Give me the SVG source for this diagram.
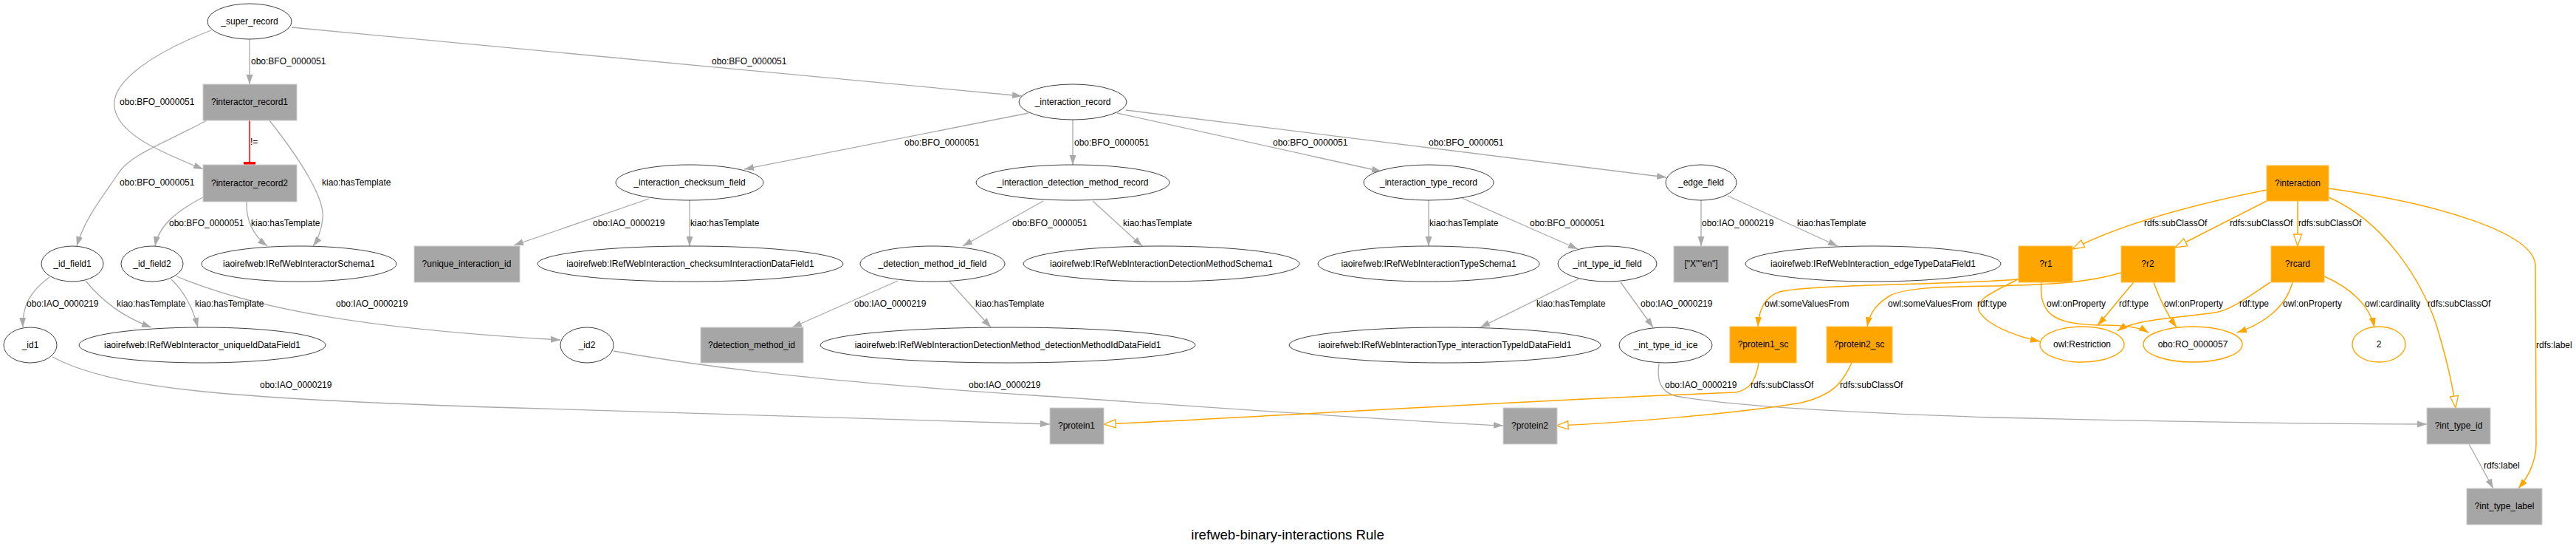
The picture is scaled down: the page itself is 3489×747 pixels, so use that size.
<svg xmlns="http://www.w3.org/2000/svg" width="3489" height="747" viewBox="0 0 3489 747">
<style>
text{font-family:"Liberation Sans",Arial,sans-serif;font-size:12px;fill:#000}
.c{text-anchor:middle}
.n ellipse{fill:#fff;stroke:#404040;stroke-width:1}
.on ellipse{fill:#fff;stroke:#ffa500;stroke-width:1.4}
.g rect{fill:#a6a6a6;stroke:#cfcfcf;stroke-width:1}
.or rect{fill:#ffa500;stroke:#ffc04c;stroke-width:1}
.e{fill:none;stroke:#a9a9a9;stroke-width:1.3}
.eo{fill:none;stroke:#ffa500;stroke-width:1.5}
.er{fill:none;stroke:#ff0000;stroke-width:1.5}
.t{font-size:18.6px}
</style>
<defs>
<marker id="ag" viewBox="0 0 13 10" refX="13" refY="5" markerWidth="13" markerHeight="10" orient="auto" markerUnits="userSpaceOnUse"><path d="M0,0.5 L13,5 L0,9.5 z" fill="#a9a9a9"/></marker>
<marker id="ao" viewBox="0 0 13 10" refX="13" refY="5" markerWidth="13" markerHeight="10" orient="auto" markerUnits="userSpaceOnUse"><path d="M0,0.5 L13,5 L0,9.5 z" fill="#ffa500"/></marker>
<marker id="ah" viewBox="-1 -1 18 14" refX="16" refY="6" markerWidth="18" markerHeight="14" orient="auto" markerUnits="userSpaceOnUse"><path d="M0,0.5 L16,6 L0,11.5 z" fill="#fff" stroke="#ffa500" stroke-width="1.3"/></marker>
<marker id="tee" viewBox="0 0 4 16" refX="4" refY="8" markerWidth="4" markerHeight="16" orient="auto" markerUnits="userSpaceOnUse"><rect x="0" y="0" width="4" height="16" fill="#ff0000"/></marker>
</defs>
<rect width="3489" height="747" fill="#fff"/>
<g id="edges">
<path class="e" d="M338,53 L338,114" marker-end="url(#ag)"/>
<path class="e" d="M286,41 C210,70 150,110 155,145 C160,185 230,210 275,229" marker-end="url(#ag)"/>
<path class="e" d="M280,163 C220,195 175,210 160,235 C140,265 115,295 104,333" marker-end="url(#ag)"/>
<path class="er" d="M338,163 L338,223" marker-end="url(#tee)"/>
<path class="e" d="M365,163 C410,220 440,270 437,295 C436,310 430,325 424,333" marker-end="url(#ag)"/>
<path class="e" d="M395,37 L1384,130" marker-end="url(#ag)"/>
<path class="e" d="M275,267 C240,285 215,305 210,333" marker-end="url(#ag)"/>
<path class="e" d="M334,273 C333,300 345,320 362,333" marker-end="url(#ag)"/>
<path class="e" d="M67,375 C40,395 30,415 31,443" marker-end="url(#ag)"/>
<path class="e" d="M116,380 C140,410 170,430 205,443" marker-end="url(#ag)"/>
<path class="e" d="M232,378 C250,395 262,420 268,443" marker-end="url(#ag)"/>
<path class="e" d="M239,374 C350,420 500,445 759,460" marker-end="url(#ag)"/>
<path class="e" d="M71,483 C150,525 300,540 700,552 C1000,560 1300,570 1422,574" marker-end="url(#ag)"/>
<path class="e" d="M1393,153 L1008,229" marker-end="url(#ag)"/>
<path class="e" d="M1453,162 L1453,223" marker-end="url(#ag)"/>
<path class="e" d="M1513,153 L1871,232" marker-end="url(#ag)"/>
<path class="e" d="M1525,149 L2257,240" marker-end="url(#ag)"/>
<path class="e" d="M879,269 L696,332" marker-end="url(#ag)"/>
<path class="e" d="M934,271 L934,333" marker-end="url(#ag)"/>
<path class="e" d="M1413,272 L1304,333" marker-end="url(#ag)"/>
<path class="e" d="M1480,272 L1547,333" marker-end="url(#ag)"/>
<path class="e" d="M1216,380 L1073,443" marker-end="url(#ag)"/>
<path class="e" d="M1286,381 L1342,443" marker-end="url(#ag)"/>
<path class="e" d="M1935,271 L1935,333" marker-end="url(#ag)"/>
<path class="e" d="M1980,268 L2137,337" marker-end="url(#ag)"/>
<path class="e" d="M2139,377 L2005,443" marker-end="url(#ag)"/>
<path class="e" d="M2195,382 L2239,443" marker-end="url(#ag)"/>
<path class="e" d="M2304,271 L2304,333" marker-end="url(#ag)"/>
<path class="e" d="M2340,265 L2489,333" marker-end="url(#ag)"/>
<path class="e" d="M831,475 C1000,505 1200,522 1400,535 C1700,555 1900,570 2036,576" marker-end="url(#ag)"/>
<path class="e" d="M2247,492 C2244,515 2248,530 2270,536 C2350,550 2500,558 2700,565 C3000,572 3200,574 3287,574" marker-end="url(#ag)"/>
<path class="e" d="M3344,601 L3377,661" marker-end="url(#ag)"/>
<path class="eo" d="M3070,257 C2980,275 2880,300 2807,337" marker-end="url(#ah)"/>
<path class="eo" d="M3070,272 L2946,335" marker-end="url(#ah)"/>
<path class="eo" d="M3112,272 L3112,333" marker-end="url(#ah)"/>
<path class="eo" d="M3154,267 C3230,300 3280,380 3300,440 C3315,490 3322,520 3326,552" marker-end="url(#ah)"/>
<path class="eo" d="M3154,255 C3300,275 3434,315 3434,360 L3435,600 C3435,630 3420,650 3411,661" marker-end="url(#ao)"/>
<path class="eo" d="M3148,374 C3185,390 3210,415 3216,443" marker-end="url(#ao)"/>
<path class="eo" d="M3105,382 C3095,420 3060,440 3030,450" marker-end="url(#ao)"/>
<path class="eo" d="M3075,382 C3040,405 3020,420 3000,423 C2950,430 2890,432 2868,448" marker-end="url(#ao)"/>
<path class="eo" d="M2917,382 C2925,405 2935,425 2948,443" marker-end="url(#ao)"/>
<path class="eo" d="M2890,382 C2870,405 2855,425 2841,440" marker-end="url(#ao)"/>
<path class="eo" d="M2765,382 C2760,430 2790,440 2850,440 C2880,440 2900,444 2910,450" marker-end="url(#ao)"/>
<path class="eo" d="M2733,378 C2700,395 2675,405 2680,420 C2690,440 2730,455 2763,462" marker-end="url(#ao)"/>
<path class="eo" d="M2734,378 C2650,385 2450,385 2410,395 C2390,402 2382,420 2381,442" marker-end="url(#ao)"/>
<path class="eo" d="M2873,369 C2820,385 2760,385 2700,387 C2620,388 2580,390 2560,400 C2540,412 2532,425 2529,442" marker-end="url(#ao)"/>
<path class="eo" d="M2382,491 C2378,515 2370,528 2350,531 C2000,545 1700,565 1495,574" marker-end="url(#ah)"/>
<path class="eo" d="M2508,491 C2495,520 2480,535 2440,545 C2350,560 2200,572 2108,576" marker-end="url(#ah)"/>
<g id="edge-labels">
<text x="340" y="87">obo:BFO_0000051</text>
<text x="162" y="142">obo:BFO_0000051</text>
<text x="162" y="251">obo:BFO_0000051</text>
<text x="339" y="196">!=</text>
<text x="436" y="251">kiao:hasTemplate</text>
<text x="964" y="87">obo:BFO_0000051</text>
<text x="229" y="306">obo:BFO_0000051</text>
<text x="340" y="306">kiao:hasTemplate</text>
<text x="36" y="415">obo:IAO_0000219</text>
<text x="158" y="415">kiao:hasTemplate</text>
<text x="264" y="415">kiao:hasTemplate</text>
<text x="455" y="415">obo:IAO_0000219</text>
<text x="352" y="525">obo:IAO_0000219</text>
<text x="1225" y="197">obo:BFO_0000051</text>
<text x="1455" y="197">obo:BFO_0000051</text>
<text x="1724" y="197">obo:BFO_0000051</text>
<text x="1935" y="197">obo:BFO_0000051</text>
<text x="803" y="306">obo:IAO_0000219</text>
<text x="935" y="306">kiao:hasTemplate</text>
<text x="1371" y="306">obo:BFO_0000051</text>
<text x="1521" y="306">kiao:hasTemplate</text>
<text x="1157" y="415">obo:IAO_0000219</text>
<text x="1321" y="415">kiao:hasTemplate</text>
<text x="1936" y="306">kiao:hasTemplate</text>
<text x="2072" y="306">obo:BFO_0000051</text>
<text x="2081" y="415">kiao:hasTemplate</text>
<text x="2222" y="415">obo:IAO_0000219</text>
<text x="2305" y="306">obo:IAO_0000219</text>
<text x="2434" y="306">kiao:hasTemplate</text>
<text x="1312" y="525">obo:IAO_0000219</text>
<text x="2255" y="525">obo:IAO_0000219</text>
<text x="3364" y="634">rdfs:label</text>
<text x="2904" y="306">rdfs:subClassOf</text>
<text x="3020" y="306">rdfs:subClassOf</text>
<text x="3113" y="306">rdfs:subClassOf</text>
<text x="3288" y="415">rdfs:subClassOf</text>
<text x="3435" y="471">rdfs:label</text>
<text x="3203" y="415">owl:cardinality</text>
<text x="3092" y="415">owl:onProperty</text>
<text x="3033" y="415">rdf:type</text>
<text x="2931" y="415">owl:onProperty</text>
<text x="2870" y="415">rdf:type</text>
<text x="2772" y="415">owl:onProperty</text>
<text x="2678" y="415">rdf:type</text>
<text x="2390" y="415">owl:someValuesFrom</text>
<text x="2557" y="415">owl:someValuesFrom</text>
<text x="2371" y="525">rdfs:subClassOf</text>
<text x="2492" y="525">rdfs:subClassOf</text>
</g>
</g>
<g id="n_super_record" class="n"><ellipse cx="338" cy="29" rx="57" ry="24"/><text class="c" x="338" y="33">_super_record</text></g>
<g id="n_interactor_record1" class="g"><rect x="275" y="114" width="127" height="49"/><text class="c" x="338" y="142">?interactor_record1</text></g>
<g id="n_interactor_record2" class="g"><rect x="275" y="223" width="127" height="50"/><text class="c" x="338" y="252">?interactor_record2</text></g>
<g id="n_interaction_record" class="n"><ellipse cx="1453" cy="138" rx="73" ry="24"/><text class="c" x="1453" y="142">_interaction_record</text></g>
<g id="n_checksum_field" class="n"><ellipse cx="934" cy="247" rx="100" ry="24"/><text class="c" x="934" y="251">_interaction_checksum_field</text></g>
<g id="n_detection_method_record" class="n"><ellipse cx="1453" cy="247" rx="131" ry="24"/><text class="c" x="1453" y="251">_interaction_detection_method_record</text></g>
<g id="n_interaction_type_record" class="n"><ellipse cx="1935" cy="247" rx="88" ry="24"/><text class="c" x="1935" y="251">_interaction_type_record</text></g>
<g id="n_edge_field" class="n"><ellipse cx="2304" cy="247" rx="48" ry="24"/><text class="c" x="2304" y="251">_edge_field</text></g>
<g id="n_id_field1" class="n"><ellipse cx="98" cy="357" rx="42" ry="24"/><text class="c" x="98" y="361">_id_field1</text></g>
<g id="n_id_field2" class="n"><ellipse cx="206" cy="357" rx="42" ry="24"/><text class="c" x="206" y="361">_id_field2</text></g>
<g id="n_interactor_schema" class="n"><ellipse cx="405" cy="357" rx="132" ry="24"/><text class="c" x="405" y="361">iaoirefweb:IRefWebInteractorSchema1</text></g>
<g id="n_unique_interaction_id" class="g"><rect x="561" y="333" width="143" height="49"/><text class="c" x="632" y="361">?unique_interaction_id</text></g>
<g id="n_checksum_df" class="n"><ellipse cx="935" cy="357" rx="207" ry="24"/><text class="c" x="935" y="361">iaoirefweb:IRefWebInteraction_checksumInteractionDataField1</text></g>
<g id="n_detection_method_id_field" class="n"><ellipse cx="1263" cy="357" rx="98" ry="24"/><text class="c" x="1263" y="361">_detection_method_id_field</text></g>
<g id="n_dm_schema" class="n"><ellipse cx="1573" cy="357" rx="187" ry="24"/><text class="c" x="1573" y="361">iaoirefweb:IRefWebInteractionDetectionMethodSchema1</text></g>
<g id="n_type_schema" class="n"><ellipse cx="1935" cy="357" rx="150" ry="24"/><text class="c" x="1935" y="361">iaoirefweb:IRefWebInteractionTypeSchema1</text></g>
<g id="n_int_type_id_field" class="n"><ellipse cx="2177" cy="357" rx="67" ry="24"/><text class="c" x="2177" y="361">_int_type_id_field</text></g>
<g id="n_xen" class="g"><rect x="2267" y="333" width="74" height="49"/><text class="c" x="2304" y="361">["X""en"]</text></g>
<g id="n_edge_type_df" class="n"><ellipse cx="2537" cy="357" rx="173" ry="24"/><text class="c" x="2537" y="361">iaoirefweb:IRefWebInteraction_edgeTypeDataField1</text></g>
<g id="n_interaction" class="or"><rect x="3070" y="224" width="84" height="48"/><text class="c" x="3112" y="252">?interaction</text></g>
<g id="n_r1" class="or"><rect x="2734" y="333" width="73" height="49"/><text class="c" x="2771" y="361">?r1</text></g>
<g id="n_r2" class="or"><rect x="2873" y="333" width="73" height="49"/><text class="c" x="2909" y="361">?r2</text></g>
<g id="n_rcard" class="or"><rect x="3076" y="333" width="72" height="49"/><text class="c" x="3112" y="361">?rcard</text></g>
<g id="n_id1" class="n"><ellipse cx="41" cy="467" rx="36" ry="24"/><text class="c" x="41" y="471">_id1</text></g>
<g id="n_unique_id_df" class="n"><ellipse cx="274" cy="467" rx="167" ry="24"/><text class="c" x="274" y="471">iaoirefweb:IRefWebInteractor_uniqueIdDataField1</text></g>
<g id="n_id2" class="n"><ellipse cx="795" cy="467" rx="36" ry="24"/><text class="c" x="795" y="471">_id2</text></g>
<g id="n_detection_method_id" class="g"><rect x="949" y="443" width="139" height="48"/><text class="c" x="1018" y="471">?detection_method_id</text></g>
<g id="n_dm_id_df" class="n"><ellipse cx="1365" cy="467" rx="254" ry="24"/><text class="c" x="1365" y="471">iaoirefweb:IRefWebInteractionDetectionMethod_detectionMethodIdDataField1</text></g>
<g id="n_type_id_df" class="n"><ellipse cx="1957" cy="467" rx="211" ry="24"/><text class="c" x="1957" y="471">iaoirefweb:IRefWebInteractionType_interactionTypeIdDataField1</text></g>
<g id="n_int_type_id_ice" class="n"><ellipse cx="2256" cy="467" rx="63" ry="24"/><text class="c" x="2256" y="471">_int_type_id_ice</text></g>
<g id="n_protein1_sc" class="or"><rect x="2343" y="442" width="90" height="49"/><text class="c" x="2388" y="470">?protein1_sc</text></g>
<g id="n_protein2_sc" class="or"><rect x="2474" y="442" width="89" height="49"/><text class="c" x="2518" y="470">?protein2_sc</text></g>
<g id="n_restriction" class="on"><ellipse cx="2820" cy="466" rx="57" ry="24"/><text class="c" x="2820" y="470">owl:Restriction</text></g>
<g id="n_ro" class="on"><ellipse cx="2970" cy="466" rx="67" ry="24"/><text class="c" x="2970" y="470">obo:RO_0000057</text></g>
<g id="n_two" class="on"><ellipse cx="3222" cy="466" rx="36" ry="24"/><text class="c" x="3222" y="470">2</text></g>
<g id="n_protein1" class="g"><rect x="1422" y="552" width="73" height="49"/><text class="c" x="1458" y="580">?protein1</text></g>
<g id="n_protein2" class="g"><rect x="2036" y="552" width="73" height="49"/><text class="c" x="2072" y="580">?protein2</text></g>
<g id="n_int_type_id" class="g"><rect x="3287" y="552" width="86" height="49"/><text class="c" x="3330" y="580">?int_type_id</text></g>
<g id="n_int_type_label" class="g"><rect x="3341" y="661" width="102" height="49"/><text class="c" x="3392" y="689">?int_type_label</text></g>
<text class="c t" x="1744" y="730">irefweb-binary-interactions Rule</text>
</svg>
